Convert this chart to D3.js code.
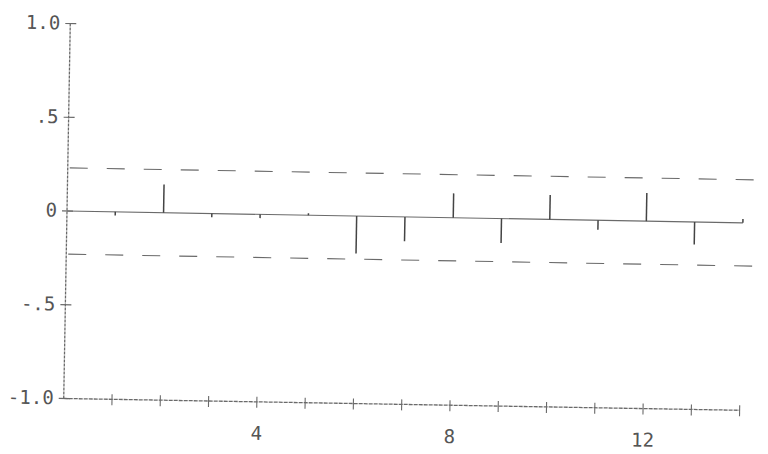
<!DOCTYPE html>
<html>
<head>
<meta charset="utf-8">
<script src="https://cdn.jsdelivr.net/npm/d3@7"></script>
<style>
  html, body { margin: 0; padding: 0; background: #fff; }
  svg { display: block; }
</style>
</head>
<body>
<svg id="chart" width="768" height="454"></svg>
<script>
// ---- data ----
const lags = [1, 2, 3, 4, 5, 6, 7, 8, 9, 10, 11, 12, 13, 14];
const acfValues = [-0.02, 0.15, -0.02, -0.02, 0.01, -0.20, -0.13, 0.13, -0.13, 0.13, -0.05, 0.15, -0.12, 0.02];
const yTickValues = [-1, -0.5, 0, 0.5, 1];
const yTickLabels = ["-1.0", "-.5", "0", ".5", "1.0"];
const xLabelValues = [4, 8, 12];
const xLabelTexts = ["4", "8", "12"];
const bandLimits = [0.23, -0.23];

// ---- layout ----
const svg = d3.select("#chart");
const x = d3.scaleLinear().domain([0, 14]).range([67, 743]);
const y = d3.scaleLinear().domain([-1, 1]).range([398.5, 23.5]);
const ink = "#6a6a6a";
const font = "'DejaVu Sans Mono', monospace";

const g = svg.append("g").attr("transform", `rotate(1.0, ${x(0)}, ${y(0)})`);

// confidence bands (dashed)
g.selectAll("line.band").data(bandLimits).enter().append("line")
  .attr("class", "band")
  .attr("x1", x(0) + 2).attr("x2", x(14.45))
  .attr("y1", d => y(d)).attr("y2", d => y(d))
  .attr("stroke", ink).attr("stroke-width", 1.1)
  .attr("stroke-dasharray", "18,19");

// zero baseline
g.append("line")
  .attr("x1", x(0)).attr("x2", x(14))
  .attr("y1", y(0)).attr("y2", y(0))
  .attr("stroke", ink).attr("stroke-width", 1.2);

// spikes
g.selectAll("line.spike").data(lags).enter().append("line")
  .attr("class", "spike")
  .attr("x1", d => x(d)).attr("x2", d => x(d))
  .attr("y1", y(0)).attr("y2", (d, i) => y(acfValues[i]))
  .attr("stroke", "#444").attr("stroke-width", 1.5);

// y axis
g.append("line")
  .attr("x1", x(0)).attr("x2", x(0))
  .attr("y1", y(1)).attr("y2", y(-1))
  .attr("stroke", ink).attr("stroke-width", 1.3)
  .attr("stroke-dasharray", "3,1");
g.selectAll("line.ytick").data(yTickValues).enter().append("line")
  .attr("class", "ytick")
  .attr("x1", x(0) - 5).attr("x2", x(0) + 6)
  .attr("y1", d => y(d)).attr("y2", d => y(d))
  .attr("stroke", ink).attr("stroke-width", 1.1);
g.selectAll("text.ylab").data(yTickValues).enter().append("text")
  .attr("class", "ylab")
  .attr("x", x(0) - 10)
  .attr("y", d => y(d) + 6)
  .attr("text-anchor", "end")
  .attr("font-family", font).attr("font-size", 19)
  .attr("fill", "#555")
  .text((d, i) => yTickLabels[i]);

// x axis
g.append("line")
  .attr("x1", x(0)).attr("x2", x(14))
  .attr("y1", y(-1)).attr("y2", y(-1))
  .attr("stroke", ink).attr("stroke-width", 1.3)
  .attr("stroke-dasharray", "4,1");
g.selectAll("line.xtick").data(lags).enter().append("line")
  .attr("class", "xtick")
  .attr("x1", d => x(d)).attr("x2", d => x(d))
  .attr("y1", y(-1) - 5).attr("y2", y(-1) + 6)
  .attr("stroke", ink).attr("stroke-width", 1.1);
g.selectAll("text.xlab").data(xLabelValues).enter().append("text")
  .attr("class", "xlab")
  .attr("x", d => x(d))
  .attr("y", y(-1) + 38)
  .attr("text-anchor", "middle")
  .attr("font-family", font).attr("font-size", 19)
  .attr("fill", "#555")
  .text((d, i) => xLabelTexts[i]);
</script>
</body>
</html>
